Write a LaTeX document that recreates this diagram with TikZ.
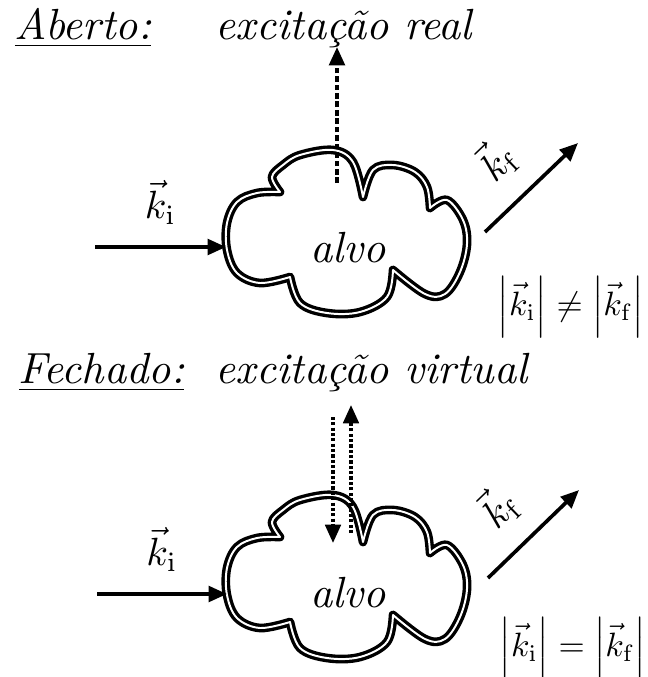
\documentclass[tikz,border=0pt]{standalone}
\usepackage{amsmath, amssymb}
\usetikzlibrary{arrows.meta}

\tikzset{
  titletext/.style={scale=3.1, anchor=base west, inner sep=0},
  veclabel/.style={scale=2.8},
  vecarrow/.style={line width=2.6pt, -{Triangle[length=13pt,width=11pt]}},
  alvocloud/.pic={
    \draw[double, line width=2.4pt, double distance=1.4pt, line join=round]
      plot[smooth, tension=0.6] coordinates {(-65,-40) (-73,-55) (-62,-67) (-45,-77) (-12,-82) (8,-70) (18,-35)}
      -- plot[smooth, tension=0.6] coordinates {(18,-35) (28,-62) (48,-67) (70,-60) (82,-45) (85,-24)}
      -- plot[smooth, tension=0.6] coordinates {(85,-24) (102,-32) (118,-12) (122,12) (115,40) (100,62) (80,62) (48,38)}
      -- plot[smooth, tension=0.6] coordinates {(48,38) (42,65) (15,80) (-18,81) (-45,71) (-55,45)}
      -- plot[smooth, tension=0.6] coordinates {(-55,45) (-85,51) (-108,41) (-118,18) (-118,-9) (-108,-30) (-88,-39) (-65,-40)}
      -- cycle;
  }
}

\begin{document}
\begin{tikzpicture}[x=0.025cm, y=-0.025cm]
    \useasboundingbox (0,0) rectangle (648,677);
    % Aberto
    \node[titletext] (aberto) at (14,39) {\underline{\textit{Aberto:}}};
    \node[titletext] (real) at (215,39) {\textit{excitação real}};
    \pic at (345,232) {alvocloud};
    \node[scale=3.1] (alvoA) at (348,248) {\textit{alvo}};
    \coordinate (kiA0) at (95,247);
    \coordinate (kiA1) at (226,247);
    \draw[vecarrow] (kiA0) -- (kiA1) node[veclabel, midway, above=1pt] {$\vec{k}_{\mathrm{i}}$};
    \coordinate (kfA0) at (485,232);
    \coordinate (kfA1) at (578,143);
    \draw[vecarrow] (kfA0) -- (kfA1) node[veclabel, pos=0.45, sloped, above=1pt] {$\vec{k}_{\mathrm{f}}$};
    \coordinate (exA0) at (337,183);
    \coordinate (exA1) at (337,47);
    \draw[vecarrow, dash pattern=on 4pt off 2pt] (exA0) -- (exA1);
    \node[scale=2.4] (neqA) at (571,307) {$\left|\vec{k}_{\mathrm{i}}\right| \neq \left|\vec{k}_{\mathrm{f}}\right|$};
    % Fechado
    \node[titletext] (fechado) at (18,383) {\underline{\textit{Fechado:}}};
    \node[titletext] (virtual) at (215,383) {\textit{excitação virtual}};
    \pic at (345,577) {alvocloud};
    \node[scale=3.1] (alvoB) at (348,593) {\textit{alvo}};
    \coordinate (kiB0) at (97,594);
    \coordinate (kiB1) at (227,594);
    \draw[vecarrow] (kiB0) -- (kiB1) node[veclabel, midway, above=1pt] {$\vec{k}_{\mathrm{i}}$};
    \coordinate (kfB0) at (488,578);
    \coordinate (kfB1) at (579,490);
    \draw[vecarrow] (kfB0) -- (kfB1) node[veclabel, pos=0.45, sloped, above=1pt] {$\vec{k}_{\mathrm{f}}$};
    \coordinate (inB0) at (333,417);
    \coordinate (inB1) at (333,543);
    \coordinate (outB0) at (351,533);
    \coordinate (outB1) at (351,405);
    \draw[vecarrow, line width=2.4pt, dash pattern=on 2.2pt off 1.6pt] (inB0) -- (inB1);
    \draw[vecarrow, line width=2.4pt, dash pattern=on 2.2pt off 1.6pt] (outB0) -- (outB1);
    \node[scale=2.4] (eqB) at (573,648) {$\left|\vec{k}_{\mathrm{i}}\right| = \left|\vec{k}_{\mathrm{f}}\right|$};
\end{tikzpicture}
\end{document}
